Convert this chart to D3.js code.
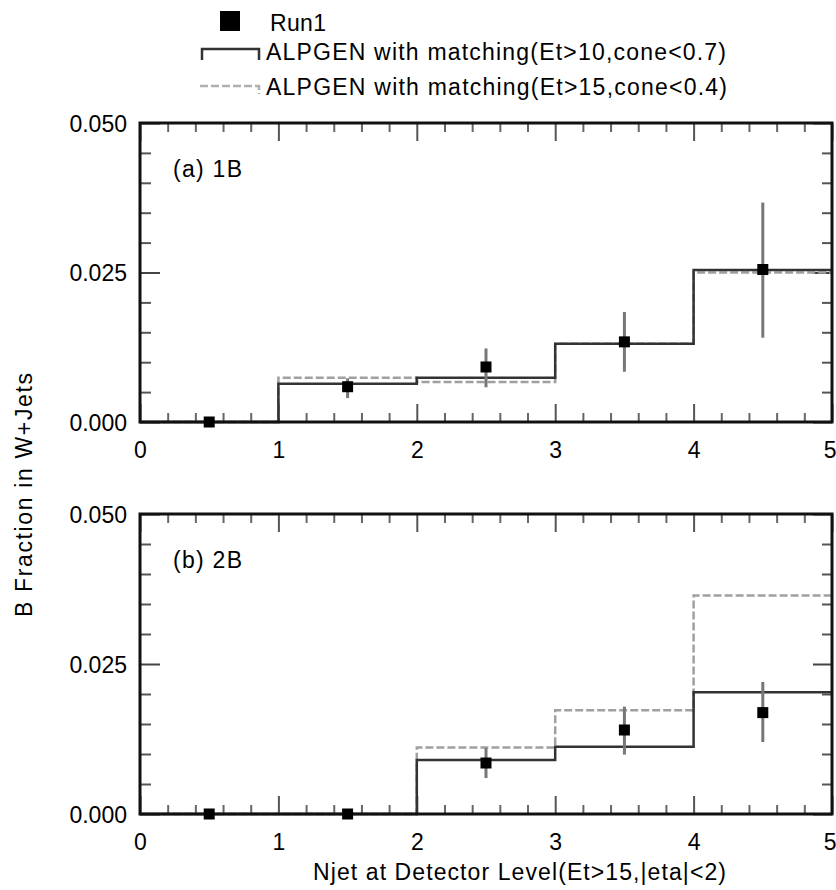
<!DOCTYPE html>
<html>
<head>
<meta charset="utf-8">
<script src="https://cdn.jsdelivr.net/npm/d3@7"></script>
<style>
  html, body { margin: 0; padding: 0; background: #fff; }
  svg { display: block; }
  text { font-family: "Liberation Sans", Arial, Helvetica, sans-serif; fill: #000; }
</style>
</head>
<body>
<svg id="chart" width="836" height="890"></svg>
<script>
// ---------------- data ----------------
const binEdges = [0, 1, 2, 3, 4, 5];
const binCenters = [0.5, 1.5, 2.5, 3.5, 4.5];
const xTickLabels = [0, 1, 2, 3, 4, 5];
const yTickLabels = [0.000, 0.025, 0.050];

// (a) 1B
const run1_1B    = [0.0000, 0.0059, 0.0092, 0.0134, 0.0255];
const run1_1B_lo = [0.0000, 0.0040, 0.0058, 0.0084, 0.0141];
const run1_1B_hi = [0.0000, 0.0073, 0.0123, 0.0184, 0.0367];
const alpgenCone07_1B = [0.0000, 0.0064, 0.0074, 0.0131, 0.0254];
const alpgenCone04_1B = [0.0000, 0.0074, 0.0067, 0.0131, 0.0250];

// (b) 2B
const run1_2B    = [0.0000, 0.0000, 0.0085, 0.0140, 0.0169];
const run1_2B_lo = [0.0000, 0.0000, 0.0060, 0.0099, 0.0120];
const run1_2B_hi = [0.0000, 0.0000, 0.0110, 0.0179, 0.0220];
const alpgenCone07_2B = [0.0000, 0.0000, 0.0090, 0.0112, 0.0203];
const alpgenCone04_2B = [0.0000, 0.0000, 0.0111, 0.0173, 0.0364];

const legendLabels = ["Run1", "ALPGEN with matching(Et>10,cone<0.7)", "ALPGEN with matching(Et>15,cone<0.4)"];
const panelLabels = ["(a) 1B", "(b) 2B"];
const xTitle = "Njet at Detector Level(Et>15,|eta|<2)";
const yTitle = "B Fraction in W+Jets";

// ---------------- layout ----------------
const svg = d3.select("#chart");
const FONT = 23;
const left = 140, right = 832;
const panels = [
  { top: 123, bottom: 422, label: panelLabels[0], run: run1_1B, lo: run1_1B_lo, hi: run1_1B_hi, solid: alpgenCone07_1B, dashed: alpgenCone04_1B },
  { top: 514, bottom: 814, label: panelLabels[1], run: run1_2B, lo: run1_2B_lo, hi: run1_2B_hi, solid: alpgenCone07_2B, dashed: alpgenCone04_2B }
];

const x = d3.scaleLinear().domain([0, 5]).range([left, right]);
const isMinor = d => Math.abs(d - Math.round(d)) > 1e-6;
const xMinor = d3.range(0, 5.0001, 0.2).filter(isMinor);
const yMinor = d3.range(0, 0.05001, 0.005).filter(d => Math.abs(d / 0.025 - Math.round(d / 0.025)) > 1e-6);

function histPoints(vals) {
  const pts = [];
  vals.forEach((v, i) => { pts.push([binEdges[i], v]); pts.push([binEdges[i + 1], v]); });
  return pts;
}

panels.forEach((p, pi) => {
  const y = d3.scaleLinear().domain([0, 0.05]).range([p.bottom, p.top]);
  const g = svg.append("g");

  const styleAxis = (sel, w, c) => {
    sel.select(".domain").remove();
    sel.selectAll(".tick line").attr("stroke", c).attr("stroke-width", w);
  };

  // bottom axis major (labels)
  const gxb = g.append("g").attr("transform", `translate(0,${p.bottom})`)
    .call(d3.axisBottom(x).tickValues(xTickLabels).tickSize(-18).tickFormat(d3.format("d")));
  styleAxis(gxb, 2, "#555");
  gxb.selectAll(".tick text").attr("y", 36).attr("dy", 0)
    .style("font-size", FONT + "px").style("font-family", "'Liberation Sans', Arial, sans-serif").attr("fill", "#000")
    .attr("text-anchor", d => d === 5 ? "end" : "middle")
    .attr("x", d => d === 5 ? 4 : 0);
  const gxbm = g.append("g").attr("transform", `translate(0,${p.bottom})`)
    .call(d3.axisBottom(x).tickValues(xMinor).tickSize(-9).tickFormat(""));
  styleAxis(gxbm, 2, "#666");

  // top axis
  const gxt = g.append("g").attr("transform", `translate(0,${p.top})`)
    .call(d3.axisTop(x).tickValues(xTickLabels).tickSize(-18).tickFormat(""));
  styleAxis(gxt, 2, "#555");
  const gxtm = g.append("g").attr("transform", `translate(0,${p.top})`)
    .call(d3.axisTop(x).tickValues(xMinor).tickSize(-9).tickFormat(""));
  styleAxis(gxtm, 2, "#666");

  // left axis
  const gyl = g.append("g").attr("transform", `translate(${left},0)`)
    .call(d3.axisLeft(y).tickValues(yTickLabels).tickSize(-20).tickPadding(13).tickFormat(d3.format(".3f")));
  styleAxis(gyl, 2, "#444");
  gyl.selectAll(".tick text").attr("dy", "0.36em")
    .style("font-size", FONT + "px").style("font-family", "'Liberation Sans', Arial, sans-serif").attr("fill", "#000");
  const gylm = g.append("g").attr("transform", `translate(${left},0)`)
    .call(d3.axisLeft(y).tickValues(yMinor).tickSize(-11).tickFormat(""));
  styleAxis(gylm, 2, "#555");

  // right axis
  const gyr = g.append("g").attr("transform", `translate(${right},0)`)
    .call(d3.axisRight(y).tickValues(yTickLabels).tickSize(-19).tickFormat(""));
  styleAxis(gyr, 2, "#444");
  const gyrm = g.append("g").attr("transform", `translate(${right},0)`)
    .call(d3.axisRight(y).tickValues(yMinor).tickSize(-10).tickFormat(""));
  styleAxis(gyrm, 2, "#555");

  // histograms
  const line = d3.line().x(d => x(d[0])).y(d => y(d[1]));
  g.append("path").attr("d", line(histPoints(p.dashed)))
    .attr("fill", "none").attr("stroke", "#a0a0a0").attr("stroke-width", 2.5)
    .attr("stroke-dasharray", "8,3");
  g.append("path").attr("d", line(histPoints(p.solid)))
    .attr("fill", "none").attr("stroke", "#333").attr("stroke-width", 2.5);

  // frame
  g.append("rect").attr("x", left).attr("y", p.top)
    .attr("width", right - left).attr("height", p.bottom - p.top)
    .attr("fill", "none").attr("stroke", "#111").attr("stroke-width", 3);

  // error bars
  g.selectAll("line.err").data(binCenters).enter().append("line")
    .attr("class", "err")
    .attr("x1", d => x(d)).attr("x2", d => x(d))
    .attr("y1", (d, i) => y(p.lo[i])).attr("y2", (d, i) => y(p.hi[i]))
    .attr("stroke", "#777").attr("stroke-width", 3);

  // markers
  const ms = 11;
  g.selectAll("rect.pt").data(binCenters).enter().append("rect")
    .attr("class", "pt")
    .attr("x", d => x(d) - ms / 2).attr("y", (d, i) => y(p.run[i]) - ms / 2)
    .attr("width", ms).attr("height", ms).attr("fill", "#000");

  // panel label
  g.append("text").attr("x", 173).attr("y", p.top + 54)
    .attr("textLength", 69).attr("lengthAdjust", "spacing")
    .style("font-size", FONT + "px").text(p.label);
});

// ---------------- legend ----------------
const lg = svg.append("g");
lg.append("rect").attr("x", 220).attr("y", 11).attr("width", 20).attr("height", 20).attr("fill", "#000");
lg.append("text").attr("x", 270).attr("y", 31).style("font-size", FONT + "px")
  .attr("textLength", 56).attr("lengthAdjust", "spacing").text(legendLabels[0]);

lg.append("path").attr("d", "M202,60 L202,49 L259,49 L259,60")
  .attr("fill", "none").attr("stroke", "#333").attr("stroke-width", 2.5);
lg.append("text").attr("x", 266).attr("y", 60).style("font-size", FONT + "px")
  .attr("textLength", 460).attr("lengthAdjust", "spacing").text(legendLabels[1]);

lg.append("path").attr("d", "M200,86 L259,86 L259,94")
  .attr("fill", "none").attr("stroke", "#b0b0b0").attr("stroke-width", 2.5)
  .attr("stroke-dasharray", "8,3");
lg.append("text").attr("x", 266).attr("y", 95).style("font-size", FONT + "px")
  .attr("textLength", 461).attr("lengthAdjust", "spacing").text(legendLabels[2]);

// ---------------- axis titles ----------------
svg.append("text").attr("x", 313).attr("y", 880).style("font-size", FONT + "px")
  .attr("textLength", 413).attr("lengthAdjust", "spacing").text(xTitle);

svg.append("text").attr("transform", "translate(32,495) rotate(-90)")
  .attr("text-anchor", "middle").style("font-size", FONT + "px")
  .attr("textLength", 244).attr("lengthAdjust", "spacing").text(yTitle);
</script>
</body>
</html>
